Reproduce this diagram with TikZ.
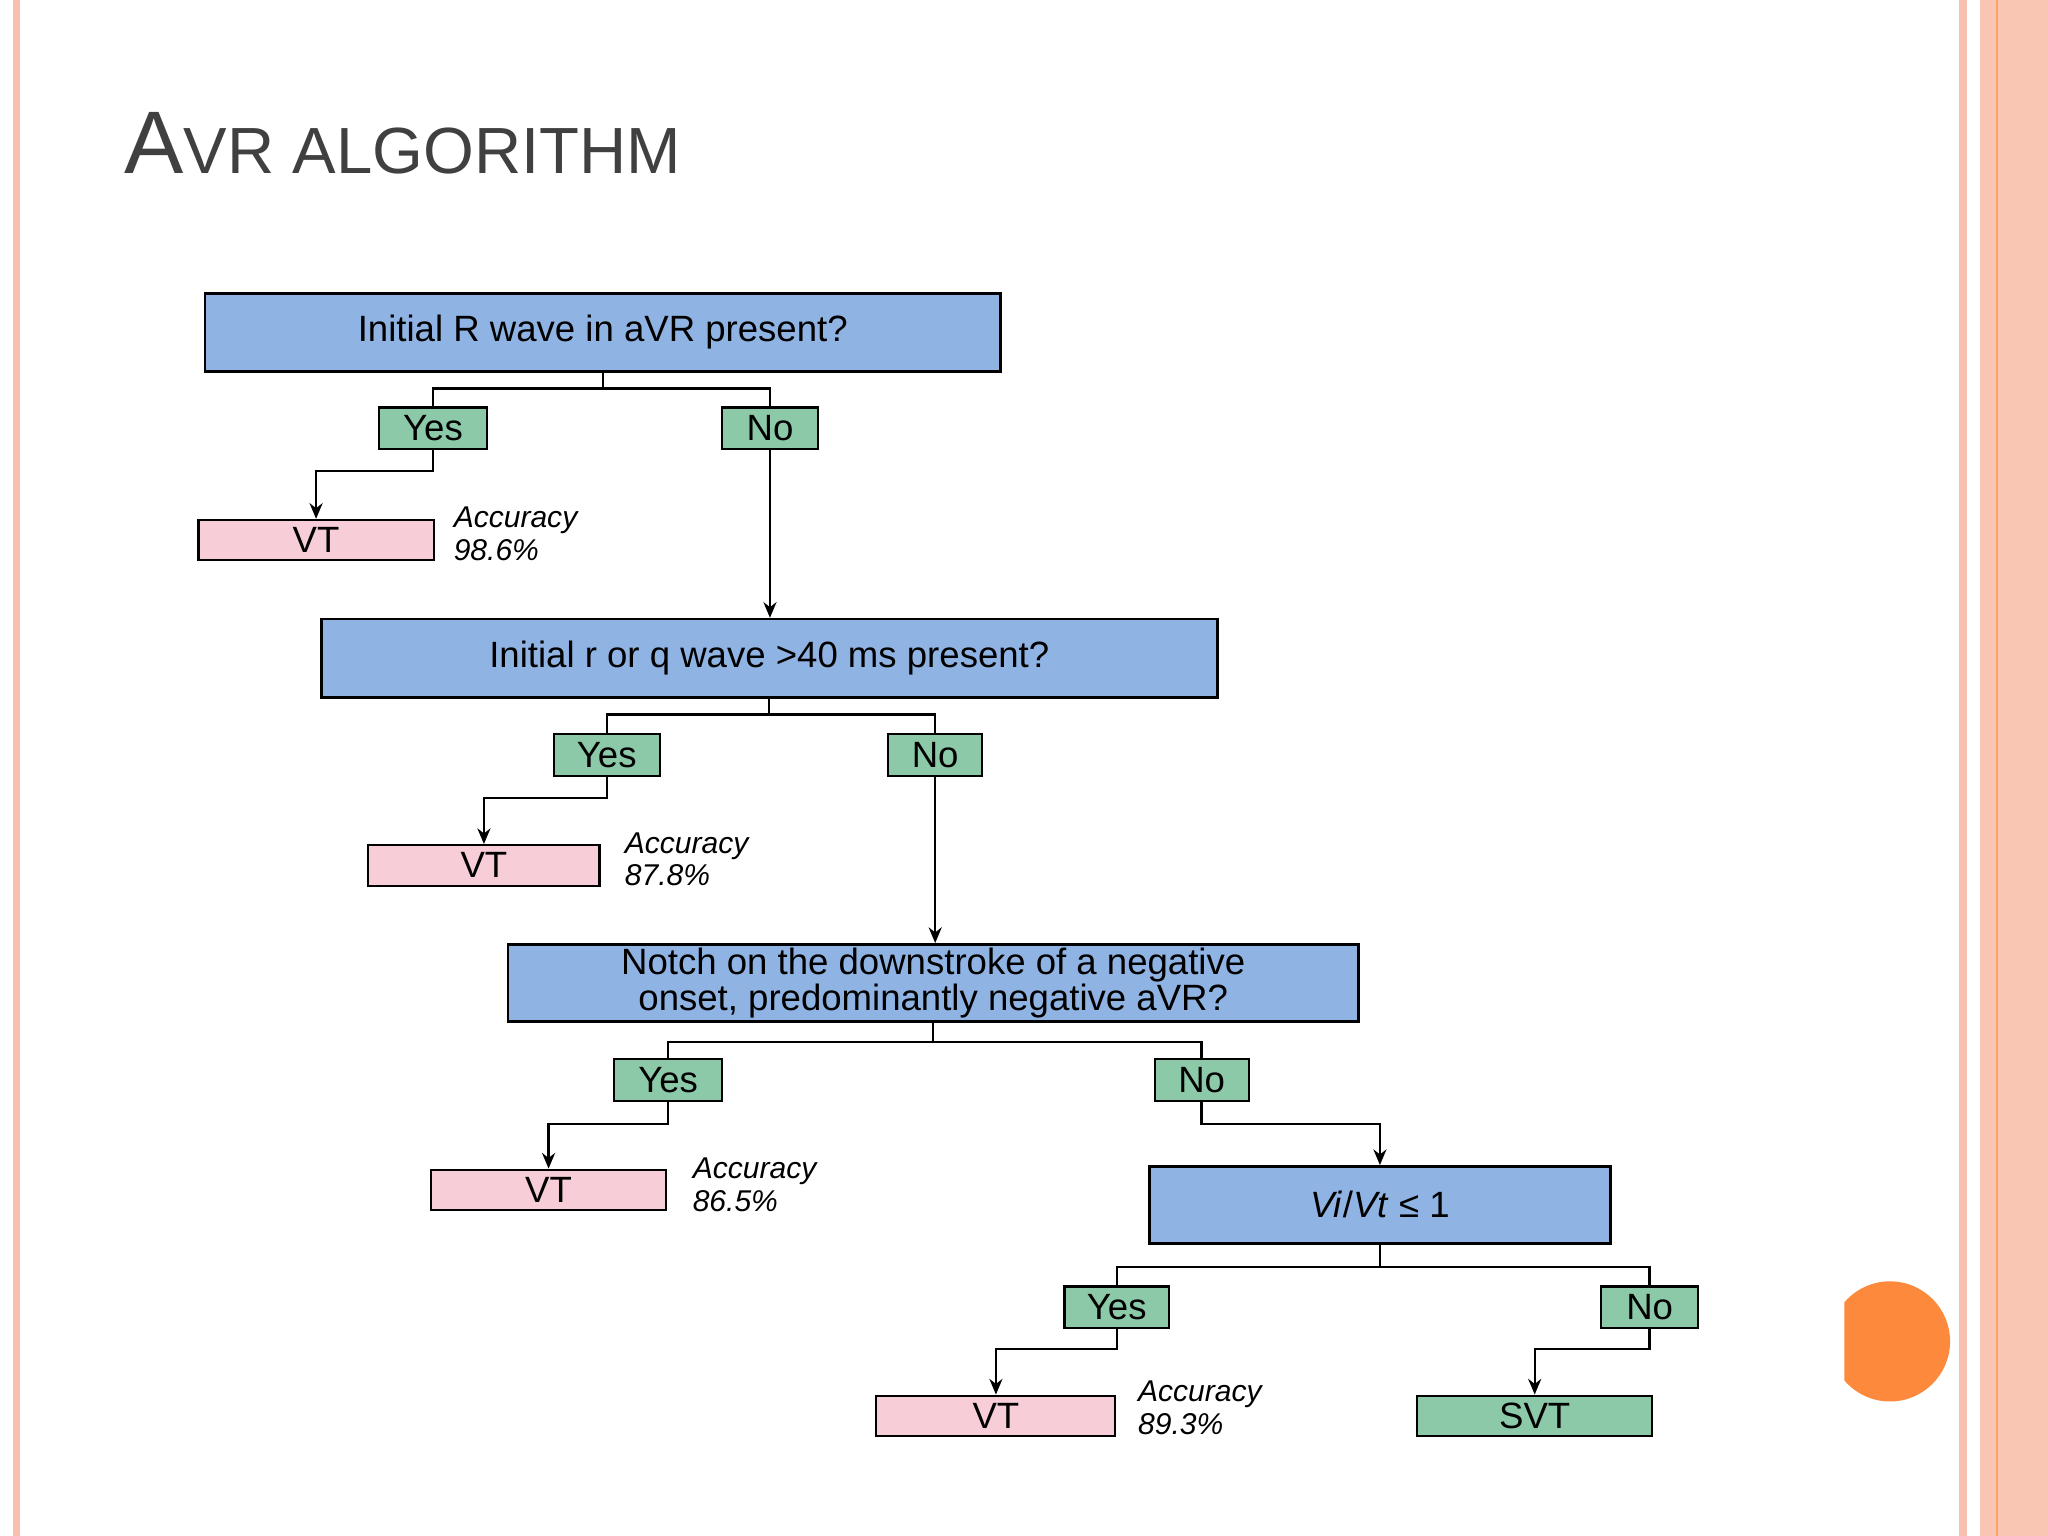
\documentclass[tikz,border=0pt]{standalone}
\usepackage{fontspec}
\setmainfont{Liberation Sans}
\usetikzlibrary{arrows.meta}
\definecolor{qblue}{HTML}{8FB3E3}
\definecolor{agreen}{HTML}{8CC9A8}
\definecolor{vpink}{HTML}{F7CDD8}
\definecolor{salmon}{HTML}{FAC6B4}
\definecolor{stripe}{HTML}{F9C0B2}
\definecolor{orng}{HTML}{FD8A3C}
\begin{document}
\begin{tikzpicture}[x=0.5pt,y=-0.5pt,
  q/.style={draw=black,line width=1pt,fill=qblue,inner sep=0pt,minimum height=30pt,font=\fontsize{14}{16}\selectfont},
  ans/.style={draw=black,line width=0.8pt,fill=agreen,inner sep=0pt,minimum height=16pt,font=\fontsize{14}{16}\selectfont},
  vt/.style={draw=black,line width=0.8pt,fill=vpink,inner sep=0pt,minimum height=15.5pt,minimum width=90pt,font=\fontsize{14}{16}\selectfont},
  acc/.style={anchor=north west,align=left,inner sep=0pt,font=\itshape\fontsize{11.5}{12.5}\selectfont},
  ln/.style={line width=0.9pt},
  ar/.style={line width=0.9pt,-{Stealth[length=6pt,width=5pt]}}]
\useasboundingbox (0,0) rectangle (1568,1176);
\fill[white] (0,0) rectangle (1568,1176);
% border decorations
\fill[stripe] (10,0) rectangle (15,1176);
\fill[stripe] (1500,0) rectangle (1506,1176);
\fill[salmon] (1516,0) rectangle (1568,1176);
\fill[orng!80] (1528,0) rectangle (1530,1176);
\begin{scope}
\clip (1412,900) rectangle (1500,1150);
\fill[orng] (1447,1027) circle (46);
\end{scope}
% title
\node[anchor=base west,inner sep=0pt,text=black!75] (title) at (95,133)
  {{\fontsize{34}{34}\selectfont A}{\fontsize{25}{25}\selectfont VR ALGORITHM}};
% nodes
\node[q,minimum width=304.5pt] (q1) at (461.5,254.5) {Initial R wave in aVR present?};
\node[ans,minimum width=41.5pt] (y1) at (331.5,328) {Yes};
\node[ans,minimum width=36.5pt] (n1) at (589.5,328) {No};
\node[vt] (v1) at (242,413.5) {VT};
\node[acc] (a1) at (347,388) {Accuracy\\98.6\%};
\node[q,minimum width=343pt] (q2) at (589,504) {Initial r or q wave >40 ms present?};
\node[ans,minimum width=40.5pt] (y2) at (464.5,578) {Yes};
\node[ans,minimum width=36pt] (n2) at (716,578) {No};
\node[vt,minimum width=88.5pt] (v2) at (370.5,662.5) {VT};
\node[acc] (a2) at (478,637) {Accuracy\\87.8\%};
\node[q,minimum width=325.5pt,minimum height=29.5pt,align=center,font=\fontsize{14}{14}\selectfont] (q3) at (714.5,752.5) {Notch on the downstroke of a negative\\onset, predominantly negative aVR?};
\node[ans,minimum width=41.5pt] (y3) at (511.5,827) {Yes};
\node[ans,minimum width=36pt] (n3) at (920,827) {No};
\node[vt] (v3) at (420,911) {VT};
\node[acc] (a3) at (530,886) {Accuracy\\86.5\%};
\node[q,minimum width=176.5pt,minimum height=29.5pt] (q4) at (1056.5,922.5) {\textit{Vi}/\textit{Vt} ≤ 1};
\node[ans,minimum width=40pt] (y4) at (855,1001) {Yes};
\node[ans,minimum width=37pt] (n4) at (1263,1001) {No};
\node[vt,minimum width=91.5pt] (v4) at (762.5,1084) {VT};
\node[acc] (a4) at (871,1057) {Accuracy\\89.3\%};
\node[vt,fill=agreen] (svt) at (1175,1084) {SVT};
% connectors
\draw[ln] (q1.south) -- ++(0,12) coordinate (j1);
\draw[ln] (j1) -| (y1.north); \draw[ln] (j1) -| (n1.north);
\draw[ar] (y1.south) -- ++(0,16) -| (v1.north);
\draw[ar] (n1.south) -- (n1.south |- q2.north);
\draw[ln] (q2.south) -- ++(0,12) coordinate (j2);
\draw[ln] (j2) -| (y2.north); \draw[ln] (j2) -| (n2.north);
\draw[ar] (y2.south) -- ++(0,16) -| (v2.north);
\draw[ar] (n2.south) -- (n2.south |- q3.north);
\draw[ln] (q3.south) -- ++(0,15) coordinate (j3);
\draw[ln] (j3) -| (y3.north); \draw[ln] (j3) -| (n3.north);
\draw[ar] (y3.south) -- ++(0,17) -| (v3.north);
\draw[ar] (n3.south) -- ++(0,17) -| (q4.north);
\draw[ln] (q4.south) -- ++(0,17) coordinate (j4);
\draw[ln] (j4) -| (y4.north); \draw[ln] (j4) -| (n4.north);
\draw[ar] (y4.south) -- ++(0,15) -| (v4.north);
\draw[ar] (n4.south) -- ++(0,15) -| (svt.north);
\end{tikzpicture}
\end{document}
